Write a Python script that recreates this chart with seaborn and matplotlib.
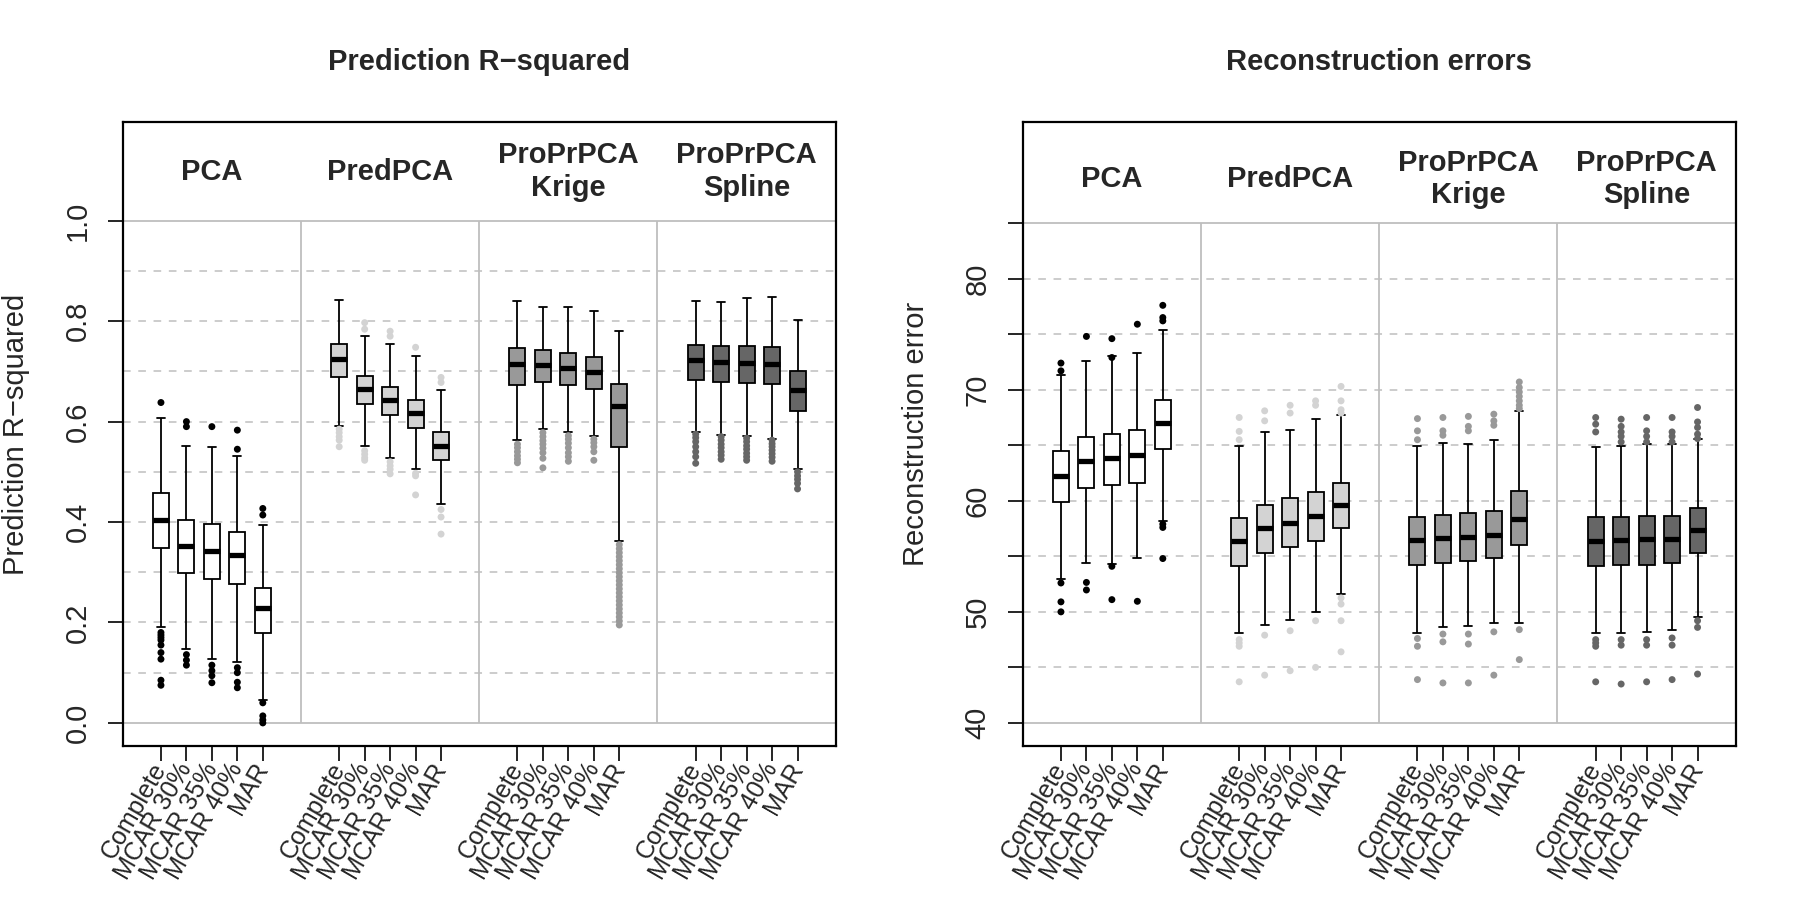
import pandas as pd
import matplotlib.pyplot as plt
import seaborn as sns

# --- Données (boîtes : moustache basse, Q1, médiane, Q3, moustache haute) ---
methodes = ["PCA", "PredPCA", "ProPrPCA\nKrige", "ProPrPCA\nSpline"]
scenarios = ["Complete", "MCAR 30%", "MCAR 35%", "MCAR 40%", "MAR"]

r2_bas = [0.190, 0.147, 0.127, 0.121, 0.046, 0.592, 0.552, 0.528, 0.505, 0.435,
          0.563, 0.585, 0.580, 0.571, 0.363, 0.580, 0.574, 0.571, 0.566, 0.506]
r2_q1 = [0.348, 0.299, 0.286, 0.276, 0.180, 0.688, 0.635, 0.613, 0.587, 0.523,
         0.673, 0.679, 0.673, 0.665, 0.549, 0.683, 0.679, 0.676, 0.674, 0.621]
r2_med = [0.405, 0.353, 0.343, 0.334, 0.228, 0.724, 0.665, 0.644, 0.617, 0.552,
          0.715, 0.713, 0.707, 0.698, 0.632, 0.722, 0.719, 0.716, 0.715, 0.663]
r2_q3 = [0.458, 0.405, 0.396, 0.381, 0.268, 0.754, 0.690, 0.669, 0.644, 0.580,
         0.747, 0.742, 0.736, 0.728, 0.675, 0.753, 0.750, 0.750, 0.748, 0.701]
r2_haut = [0.607, 0.551, 0.549, 0.531, 0.394, 0.843, 0.770, 0.755, 0.731, 0.663,
           0.841, 0.829, 0.829, 0.820, 0.780, 0.841, 0.838, 0.847, 0.849, 0.802]
r2_aberrants = [
    [0.638, 0.180, 0.175, 0.170, 0.165, 0.155, 0.140, 0.127, 0.085, 0.075],
    [0.600, 0.590, 0.136, 0.125, 0.115],
    [0.590, 0.115, 0.104, 0.094, 0.080],
    [0.583, 0.545, 0.110, 0.100, 0.081, 0.070],
    [0.427, 0.414, 0.040, 0.014, 0.006, 0.000],
    [0.585, 0.578, 0.570, 0.563, 0.550],
    [0.797, 0.784, 0.542, 0.535, 0.528, 0.523],
    [0.780, 0.770, 0.520, 0.512, 0.505, 0.496],
    [0.748, 0.497, 0.492, 0.454],
    [0.688, 0.678, 0.425, 0.410, 0.376],
    [0.555, 0.548, 0.540, 0.532, 0.525, 0.518],
    [0.578, 0.570, 0.562, 0.555, 0.547, 0.538, 0.527, 0.508],
    [0.572, 0.565, 0.557, 0.548, 0.538, 0.530, 0.521],
    [0.565, 0.558, 0.550, 0.540, 0.523],
    [0.355, 0.347, 0.339, 0.331, 0.323, 0.315, 0.307, 0.299, 0.291, 0.283, 0.275,
     0.267, 0.259, 0.251, 0.243, 0.235, 0.227, 0.219, 0.211, 0.203, 0.195],
    [0.575, 0.568, 0.560, 0.550, 0.540, 0.530, 0.517],
    [0.570, 0.563, 0.555, 0.548, 0.540, 0.533, 0.525],
    [0.567, 0.560, 0.552, 0.545, 0.537, 0.530, 0.523],
    [0.563, 0.556, 0.550, 0.543, 0.536, 0.529, 0.521],
    [0.500, 0.492, 0.485, 0.477, 0.466],
]

rec_bas = [52.95, 54.39, 54.28, 54.85, 58.14, 48.11, 48.79, 49.28, 50.00, 51.59,
           48.14, 48.60, 48.71, 48.98, 48.98, 48.11, 48.11, 48.22, 48.41, 49.55]
rec_q1 = [59.89, 61.14, 61.40, 61.63, 64.70, 54.17, 55.27, 55.80, 56.36, 57.54,
          54.24, 54.36, 54.55, 54.81, 56.06, 54.17, 54.24, 54.24, 54.36, 55.30]
rec_med = [62.23, 63.56, 63.86, 64.09, 66.97, 56.40, 57.54, 57.99, 58.64, 59.58,
           56.44, 56.63, 56.74, 56.93, 58.37, 56.36, 56.44, 56.55, 56.55, 57.39]
rec_q3 = [64.51, 65.76, 66.02, 66.36, 69.09, 58.45, 59.66, 60.23, 60.83, 61.59,
          58.56, 58.71, 58.86, 59.09, 60.91, 58.52, 58.56, 58.64, 58.64, 59.39]
rec_haut = [71.36, 72.58, 73.03, 73.33, 75.42, 64.92, 66.17, 66.40, 67.39, 67.73,
            64.89, 65.19, 65.08, 65.45, 68.07, 64.85, 64.96, 65.08, 65.08, 65.53]
rec_aberrants = [
    [72.4, 71.7, 52.6, 50.9, 50.0],
    [74.8, 52.65, 51.97],
    [74.6, 72.9, 54.1, 51.1],
    [75.9, 50.95],
    [77.6, 76.5, 76.2, 57.9, 57.6, 54.8],
    [67.5, 66.25, 65.5, 47.5, 47.2, 46.9, 43.7],
    [68.1, 67.2, 47.9, 44.3],
    [68.6, 67.9, 48.3, 44.7],
    [69.0, 68.6, 49.2, 45.0],
    [70.3, 69.0, 68.2, 67.9, 51.25, 50.7, 49.2, 46.4],
    [67.4, 66.3, 65.5, 47.6, 46.9, 43.9],
    [67.5, 66.3, 65.9, 48.0, 47.3, 43.6],
    [67.6, 66.7, 66.3, 48.0, 47.1, 43.6],
    [67.8, 67.2, 66.8, 48.2, 44.3],
    [70.7, 70.2, 69.8, 69.4, 69.0, 68.6, 68.3, 48.4, 45.7],
    [67.5, 66.9, 66.2, 47.5, 47.2, 46.9, 43.7],
    [67.35, 66.7, 66.2, 65.8, 65.3, 47.5, 47.0, 43.5],
    [67.5, 66.3, 65.8, 65.3, 47.5, 47.0, 43.7],
    [67.5, 66.2, 65.8, 65.3, 47.65, 47.0, 43.9],
    [68.4, 67.1, 66.6, 66.0, 65.6, 49.2, 48.6, 44.4],
]

# couleurs de remplissage et des points aberrants, par méthode
remplissage = {"PCA": "white", "PredPCA": "#d3d3d3",
               "ProPrPCA\nKrige": "#999999", "ProPrPCA\nSpline": "#666666"}
couleur_points = {"PCA": "black", "PredPCA": "#d3d3d3",
                  "ProPrPCA\nKrige": "#999999", "ProPrPCA\nSpline": "#666666"}
GRIS = "#bebebe"

sns.set_theme(style="white")
plt.rcParams["font.family"] = ["Liberation Sans", "DejaVu Sans"]

# positions des boîtes : 5 par groupe, 2 unités d'écart entre groupes
positions = [g * 7 + s + 1 for g in range(len(methodes)) for s in range(len(scenarios))]


def tracer_panneau(ax, bas, q1, med, q3, haut, aberrants, y0, y1, pas, ylim,
                   yticks, ylabels, titre, ylabel, y_entete):
    lignes, points = [], []
    for i, p in enumerate(positions):
        m = methodes[i // 5]
        for v in (bas[i], q1[i], med[i], q3[i], haut[i]):
            lignes.append({"pos": p, "methode": m, "valeur": v})
        for v in aberrants[i]:
            points.append({"pos": p, "methode": m, "valeur": v})
    df = pd.DataFrame(lignes)
    df_pts = pd.DataFrame(points)

    # grille façon R
    k = y0 + pas
    while k < y1 - 1e-9:
        ax.axhline(k, color=GRIS, lw=1.1, ls=(0, (5, 5)), zorder=0)
        k += pas
    ax.axhline(y0, color=GRIS, lw=1.3, zorder=0)
    ax.axhline(y1, color=GRIS, lw=1.3, zorder=0)
    for g in range(1, len(methodes)):
        ax.vlines(g * 7 - 0.5, y0, y1, color=GRIS, lw=1.3, zorder=0)

    sns.boxplot(data=df, x="pos", y="valeur", hue="methode", hue_order=methodes,
                palette=remplissage, saturation=1, native_scale=True, dodge=False,
                width=0.63, whis=(0, 100), showfliers=False, linecolor="black",
                linewidth=1.3, legend=False, ax=ax,
                medianprops={"linewidth": 3.8}, zorder=2)
    sns.scatterplot(data=df_pts, x="pos", y="valeur", hue="methode", hue_order=methodes,
                    palette=couleur_points, s=25, edgecolor="none", legend=False,
                    ax=ax, zorder=3)

    for g, m in enumerate(methodes):
        ax.text(g * 7 + 3, y_entete, m, ha="center", va="center", fontsize=21,
                fontweight="bold", linespacing=1.2)

    ax.set_xlim(-0.5, 27.5)
    ax.set_ylim(*ylim)
    ax.set_xticks(positions)
    ax.set_xticklabels(scenarios * len(methodes), rotation=60, ha="right",
                       va="center", rotation_mode="anchor", fontsize=18)
    ax.set_yticks(yticks)
    ax.set_yticklabels(ylabels, rotation=90, va="center", fontsize=21)
    ax.tick_params(axis="both", direction="out", length=10.5, width=1.2,
                   bottom=True, left=True, color="black")
    ax.tick_params(axis="x", pad=3)
    ax.tick_params(axis="y", pad=12)
    ax.set_xlabel("")
    ax.set_ylabel(ylabel, fontsize=21)
    ax.yaxis.set_label_coords(-0.13, 0.5)
    for sp in ax.spines.values():
        sp.set_color("black")
        sp.set_linewidth(1.6)
    ax.text(0.5, 1.097, titre, transform=ax.transAxes, ha="center", va="center",
            fontsize=21, fontweight="bold")


fig = plt.figure(figsize=(18, 9), dpi=100)
ax1 = fig.add_axes([0.0682, 0.1711, 0.3961, 0.6930])
ax2 = fig.add_axes([0.5682, 0.1711, 0.3961, 0.6930])

tracer_panneau(ax1, r2_bas, r2_q1, r2_med, r2_q3, r2_haut, r2_aberrants,
               0.0, 1.0, 0.1, (-0.046, 1.196),
               [0.0, 0.2, 0.4, 0.6, 0.8, 1.0], ["0.0", "0.2", "0.4", "0.6", "0.8", "1.0"],
               "Prediction R\u2212squared", "Prediction R\u2212squared", 1.098)

rec_ticks = [40, 45, 50, 55, 60, 65, 70, 75, 80, 85]
rec_labels = ["40", "", "50", "", "60", "", "70", "", "80", ""]
tracer_panneau(ax2, rec_bas, rec_q1, rec_med, rec_q3, rec_haut, rec_aberrants,
               40, 85, 5, (37.92, 94.08), rec_ticks, rec_labels,
               "Reconstruction errors", "Reconstruction error", 88.95)

plt.savefig("out.png", dpi=100, facecolor="white")
print("Figure enregistrée : out.png")
